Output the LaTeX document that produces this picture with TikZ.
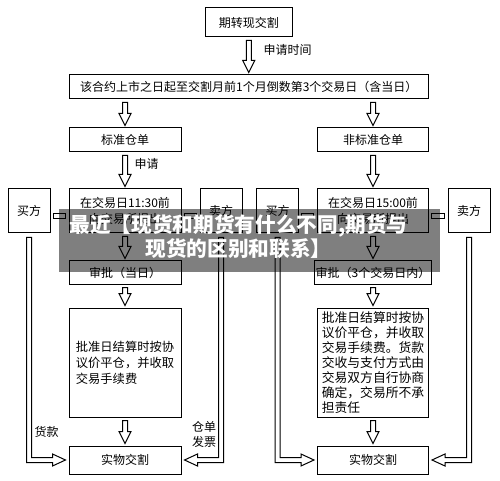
\documentclass[tikz,border=0pt]{standalone}
\usepackage{fontspec}
\setmainfont{Noto Sans CJK SC}
\usetikzlibrary{calc}

\tikzset{every picture/.style={line width=0.75pt}}
\tikzset{
  box/.style={draw, inner sep=0.75pt, font=\fontsize{9}{12}\selectfont},
  colL/.style={box, minimum width=84pt},
  colR/.style={box, minimum width=83.25pt},
  party/.style={box, minimum width=31.5pt, minimum height=33pt},
  lab/.style={inner sep=0.75pt, font=\fontsize{9}{11.25}\selectfont},
}
% hollow arrow pointing down, from #1 to #2
\newcommand{\hollowdown}[2]{%
  \draw [fill=white] ($(#1)+(-2.5,3)$) -- ($(#2)+(-2.5,-14)$) -- ($(#2)+(-6,-14)$) -- ($(#2)+(0,-2)$) -- ($(#2)+(6,-14)$) -- ($(#2)+(2.5,-14)$) -- ($(#1)+(2.5,3)$) -- cycle ;}
% hollow arrow going down from #1 then sideways into #2 (#3=1 right, -1 left)
\newcommand{\hollowturn}[3]{%
  \draw [fill=white] ($(#1)+({-2.5*#3},4)$) -- ($(#1 |- #2)+({-2.5*#3},2.5)$) -- ($(#2)+({-16*#3},2.5)$) -- ($(#2)+({-16*#3},6)$) -- ($(#2)+({-3*#3},0)$) -- ($(#2)+({-16*#3},-6)$) -- ($(#2)+({-16*#3},-2.5)$) -- ($(#1 |- #2)+({2.5*#3},-2.5)$) -- ($(#1)+({2.5*#3},4)$) -- cycle ;}
% small hollow bar between two boxes
\newcommand{\hollowbar}[2]{%
  \draw [fill=white] ($(#1.east)+(2.5,3)$) rectangle ($(#2.west |- #1.east)+(-3.5,8)$) ;}

\begin{document}
\begin{tikzpicture}[x=0.75pt,y=0.75pt,yscale=-1,xscale=1]
\useasboundingbox (0,0) rectangle (500,481);

%Shape: Rectangle [top]
\node (top) [box, minimum width=65.25pt, minimum height=21.75pt] at (248.75,22.5) {期转现交割};
%Shape: Rectangle [period]
\node (period) [box, minimum width=269.6pt, minimum height=18pt] at (248.75,87) {该合约上市之日起至交割月前1个月倒数第3个交易日（含当日）};

%Shape: Rectangle [left column]
\node (std) [colL, minimum height=18pt] at (125,140) {标准仓单};
\node (reqL) [colL, minimum height=33pt, align=center] at (125,211) {在交易日11:30前\\向交易所提出};
\node (appL) [colL, minimum height=17.25pt] at (125,272.5) {审批（当日）};
\node (setL) [colL, minimum height=81.75pt, align=left, font=\fontsize{9.2}{12}\selectfont] at (125,362.5) {批准日结算时按协\\议价平仓，并收取\\交易手续费};
\node (dealL) [colL, minimum height=21pt] at (125,460) {实物交割};

%Shape: Rectangle [right column]
\node (nstd) [colR, minimum height=18pt] at (373,140) {非标准仓单};
\node (reqR) [colR, minimum height=33pt, align=center] at (373,211) {在交易日15:00前\\向交易所提出};
\node (appR) [colR, minimum height=17.25pt] at (373,272.5) {审批（3个交易日内）};
\node (setR) [colR, minimum height=81.75pt, align=left, font=\fontsize{9.6}{11.25}\selectfont] at (373,362.5) {批准日结算时按协\\议价平仓，并收取\\交易手续费。货款\\交收与支付方式由\\交易双方自行协商\\确定，交易所不承\\担责任};
\node (dealR) [colR, minimum height=21pt] at (373,460) {实物交割};

%Shape: Rectangle [parties]
\node (buyL) [party] at (29,211) {买方};
\node (sellL) [party] at (221,211) {卖方};
\node (buyR) [party] at (277.5,211) {买方};
\node (sellR) [party] at (469,211) {卖方};

%Hollow arrows
\hollowdown{top.south}{period.north}
\hollowdown{period.south -| std.north}{std.north}
\hollowdown{period.south -| nstd.north}{nstd.north}
\hollowdown{std.south}{reqL.north}
\hollowdown{nstd.south}{reqR.north}
\hollowdown{reqL.south}{appL.north}
\hollowdown{reqR.south}{appR.north}
\hollowdown{appL.south}{setL.north}
\hollowdown{appR.south}{setR.north}
\hollowdown{setL.south}{dealL.north}
\hollowdown{setR.south}{dealR.north}

%Hollow bars
\hollowbar{buyL}{reqL}
\hollowbar{reqL}{sellL}
\hollowbar{buyR}{reqR}
\hollowbar{reqR}{sellR}

%Hollow turns
\hollowturn{buyL.south}{dealL.west}{1}
\hollowturn{sellL.south}{dealL.east}{-1}
\hollowturn{buyR.south}{dealR.west}{1}
\hollowturn{sellR.south}{dealR.east}{-1}

% Text Node
\node (askTime) [lab, anchor=west] at (262,50) {申请时间};
% Text Node
\node (ask) [lab, anchor=west] at (133,164) {申请};
% Text Node
\node (pay) [lab] at (46.5,432) {货款};
% Text Node
\node (docs) [lab, align=center] at (204,434.5) {仓单\\发票};

%Shape: Banner
\node (banner) [fill=black, fill opacity=0.5, inner sep=0pt, minimum width=285.75pt, minimum height=47.25pt] at (249.5,240.5) {};
% Text Node
\node (title) [inner sep=0pt, align=center, text=white, font=\fontsize{15.5}{14.5}\selectfont\bfseries] at (238.5,236.5) {最近【现货和期货有什么不同,期货与\\现货的区别和联系】};

\end{tikzpicture}
\end{document}
